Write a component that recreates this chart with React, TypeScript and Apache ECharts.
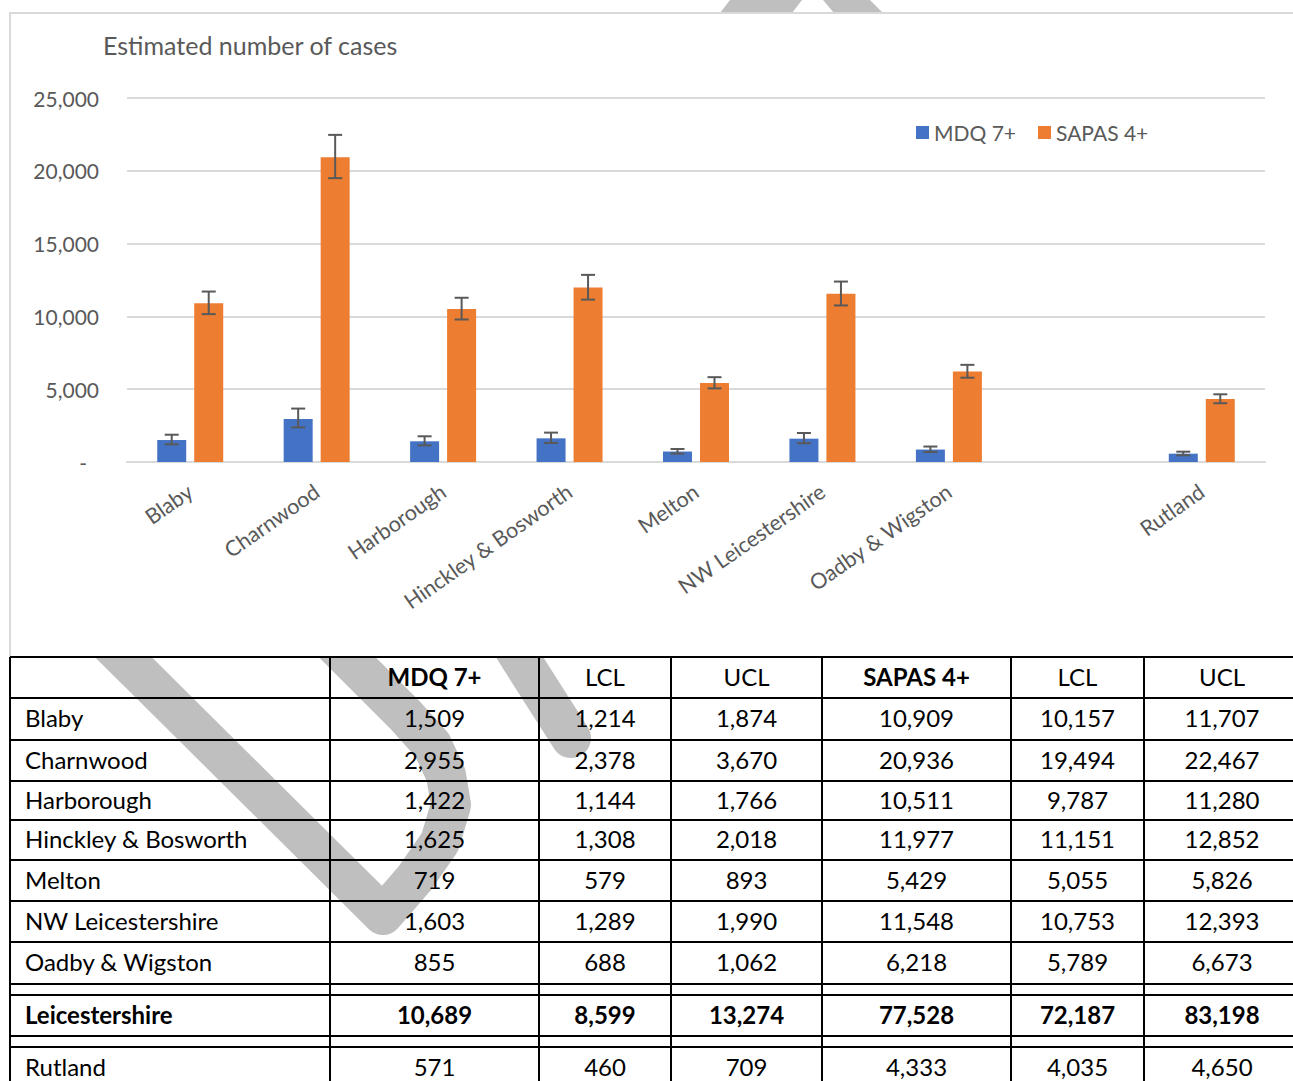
import React, { useEffect, useRef } from "react";
import * as echarts from "echarts";

// ---------- data ----------
const categories = [
  "Blaby",
  "Charnwood",
  "Harborough",
  "Hinckley & Bosworth",
  "Melton",
  "NW Leicestershire",
  "Oadby & Wigston",
  "",
  "Rutland",
];
const mdq = [1509, 2955, 1422, 1625, 719, 1603, 855, null, 571];
const mdqLcl = [1214, 2378, 1144, 1308, 579, 1289, 688, null, 460];
const mdqUcl = [1874, 3670, 1766, 2018, 893, 1990, 1062, null, 709];
const sapas = [10909, 20936, 10511, 11977, 5429, 11548, 6218, null, 4333];
const sapasLcl = [10157, 19494, 9787, 11151, 5055, 10753, 5789, null, 4035];
const sapasUcl = [11707, 22467, 11280, 12852, 5826, 12393, 6673, null, 4650];
const totalName = "Leicestershire";
const totals = [10689, 8599, 13274, 77528, 72187, 83198];
const tableHeader = ["", "MDQ 7+", "LCL", "UCL", "SAPAS 4+", "LCL", "UCL"];
const boldHeader = [false, true, false, false, true, false, false];
const seriesNames = ["MDQ 7+", "SAPAS 4+"];
const yTitle = "Estimated number of cases";

// ---------- style / layout ----------
const FONT = "Lato, 'Noto Sans', sans-serif";
const TXT = "#595959";
const GRIDC = "#d9d9d9";
const BLUE = "#4472C4";
const ORANGE = "#ED7D31";
const BAR_W = 29;
const BAR_GAP = 8;
const colEdges = [10, 330, 539, 671, 822, 1011, 1144, 1300];
// [top, bottom] of table rows incl. header; spacer rows between
const rowBands: [number, number][] = [
  [657, 698],
  [698, 740],
  [740, 781],
  [781, 820],
  [820, 860],
  [860, 901],
  [901, 942],
  [942, 984],
  [995, 1036],
  [1047, 1088],
];
const hLines = [657, 698, 740, 781, 820, 860, 901, 942, 984, 995, 1036, 1047];

const fmt = (v: number) => v.toLocaleString("en-US");

function buildTable(): any[] {
  const els: any[] = [];
  const rows: { cells: string[]; bold: boolean[] }[] = [];
  rows.push({ cells: tableHeader, bold: boldHeader });
  for (let i = 0; i < 7; i++) {
    rows.push({
      cells: [categories[i], ...[mdq[i], mdqLcl[i], mdqUcl[i], sapas[i], sapasLcl[i], sapasUcl[i]].map((v) => fmt(v as number))],
      bold: [false, false, false, false, false, false, false],
    });
  }
  rows.push({ cells: [totalName, ...totals.map(fmt)], bold: [true, true, true, true, true, true, true] });
  const r = 8;
  rows.push({
    cells: [categories[r], ...[mdq[r], mdqLcl[r], mdqUcl[r], sapas[r], sapasLcl[r], sapasUcl[r]].map((v) => fmt(v as number))],
    bold: [false, false, false, false, false, false, false],
  });

  hLines.forEach((y) => {
    els.push({
      type: "line",
      z: 5,
      shape: { x1: colEdges[0], y1: y, x2: 1300, y2: y },
      style: { stroke: "#000", lineWidth: 2 },
    });
  });
  colEdges.slice(0, 7).forEach((x) => {
    els.push({
      type: "line",
      z: 5,
      shape: { x1: x, y1: 657, x2: x, y2: 1090 },
      style: { stroke: "#000", lineWidth: 2 },
    });
  });
  rows.forEach((row, ri) => {
    const [t, b] = rowBands[ri];
    const cy = (t + b) / 2 - 1.5;
    row.cells.forEach((c, ci) => {
      if (!c) return;
      const left = ci === 0;
      els.push({
        type: "text",
        z: 6,
        x: left ? 25 : (colEdges[ci] + colEdges[ci + 1]) / 2,
        y: cy,
        style: {
          text: c,
          fill: "#000",
          font: `${row.bold[ci] ? "bold " : ""}24px ${FONT}`,
          align: left ? "left" : "center",
          verticalAlign: "middle",
        },
      });
    });
  });
  return els;
}

function watermark(): any[] {
  const st = { stroke: "#bfbfbf", lineWidth: 40, lineCap: "round", lineJoin: "round", fill: null };
  return [
    {
      type: "polyline",
      z: -3,
      shape: {
        points: [
          [90, 624],
          [383, 915],
          [415, 878],
          [440, 842],
          [451, 805],
          [446, 775],
          [432, 745],
          [405, 715],
          [300, 610],
        ],
      },
      style: st,
    },
    {
      type: "polyline",
      z: -3,
      shape: { points: [[480, 593], [520, 658], [571, 738]] },
      style: st,
    },
    {
      type: "polygon",
      z: -3,
      shape: { points: [[720, 13], [730, 0], [802, 0], [792, 13]] },
      style: { fill: "#bfbfbf" },
    },
    {
      type: "polygon",
      z: -3,
      shape: { points: [[823, 0], [870, 0], [883, 13], [834, 13]] },
      style: { fill: "#bfbfbf" },
    },
  ];
}

function errorSeries(name: string, lo: (number | null)[], hi: (number | null)[], offset: number) {
  const data: any[] = [];
  lo.forEach((v, i) => {
    if (v != null && hi[i] != null) data.push([i, v, hi[i]]);
  });
  return {
    type: "custom",
    name: name + " err",
    z: 4,
    silent: true,
    encode: { x: 0, y: [1, 2] },
    data,
    renderItem: (params: any, api: any) => {
      const i = api.value(0);
      const pLo = api.coord([i, api.value(1)]);
      const pHi = api.coord([i, api.value(2)]);
      const cx = pLo[0] + offset;
      const cap = 7;
      const s = { stroke: TXT, lineWidth: 2 };
      return {
        type: "group",
        children: [
          { type: "line", shape: { x1: cx, y1: pHi[1], x2: cx, y2: pLo[1] }, style: s },
          { type: "line", shape: { x1: cx - cap, y1: pHi[1], x2: cx + cap, y2: pHi[1] }, style: s },
          { type: "line", shape: { x1: cx - cap, y1: pLo[1], x2: cx + cap, y2: pLo[1] }, style: s },
        ],
      };
    },
  };
}

export default function App() {
  const ref = useRef<HTMLDivElement>(null);
  useEffect(() => {
    if (!ref.current) return;
    const chart = echarts.init(ref.current, null, { renderer: "svg" });
    const half = (BAR_W + BAR_GAP) / 2;
    chart.setOption({
      animation: false,
      backgroundColor: "#fff",
      textStyle: { fontFamily: FONT },
      title: {
        text: yTitle,
        left: 103,
        top: 32,
        padding: 0,
        textStyle: { fontFamily: FONT, fontSize: 25, fontWeight: "normal", color: TXT },
      },
      legend: {
        left: 916,
        top: 122,
        padding: 0,
        itemWidth: 13,
        itemHeight: 13,
        itemGap: 22,
        icon: "rect",
        data: seriesNames,
        textStyle: { fontFamily: FONT, fontSize: 21, color: TXT },
      },
      grid: { left: 127, right: 28, top: 98, bottom: 1081 - 462, containLabel: false },
      xAxis: {
        type: "category",
        data: categories,
        axisLine: { lineStyle: { color: GRIDC, width: 2 } },
        axisTick: { show: false },
        axisLabel: {
          interval: 0,
          rotate: 35,
          margin: 27,
          color: TXT,
          fontFamily: FONT,
          fontSize: 21.5,
        },
      },
      yAxis: {
        type: "value",
        min: 0,
        max: 25000,
        interval: 5000,
        axisLine: { show: false },
        axisTick: { show: false },
        splitLine: { lineStyle: { color: GRIDC, width: 2 } },
        axisLabel: {
          margin: 28,
          color: TXT,
          fontFamily: FONT,
          fontSize: 21,
          formatter: (v: number) => (v === 0 ? "{d|-}" : fmt(v)),
          rich: { d: { color: TXT, fontSize: 21, fontFamily: FONT, padding: [0, 12, 0, 0] } },
        },
      },
      series: [
        {
          type: "bar",
          name: seriesNames[0],
          data: mdq,
          barWidth: BAR_W,
          barGap: `${(BAR_GAP / BAR_W) * 100}%`,
          itemStyle: { color: BLUE },
          z: 2,
        },
        {
          type: "bar",
          name: seriesNames[1],
          data: sapas,
          barWidth: BAR_W,
          barGap: `${(BAR_GAP / BAR_W) * 100}%`,
          itemStyle: { color: ORANGE },
          z: 2,
        },
        errorSeries(seriesNames[0], mdqLcl, mdqUcl, -half),
        errorSeries(seriesNames[1], sapasLcl, sapasUcl, half),
      ],
      graphic: [
        ...watermark(),
        {
          type: "rect",
          z: -2,
          shape: { x: 10, y: 13, width: 1300, height: 644 },
          style: { fill: "#fff", stroke: GRIDC, lineWidth: 2 },
        },
        ...buildTable(),
      ],
    });
    return () => chart.dispose();
  }, []);
  return (
    <div
      ref={ref}
      style={{ position: "absolute", left: 0, top: 0, width: 1293, height: 1081 }}
    />
  );
}
